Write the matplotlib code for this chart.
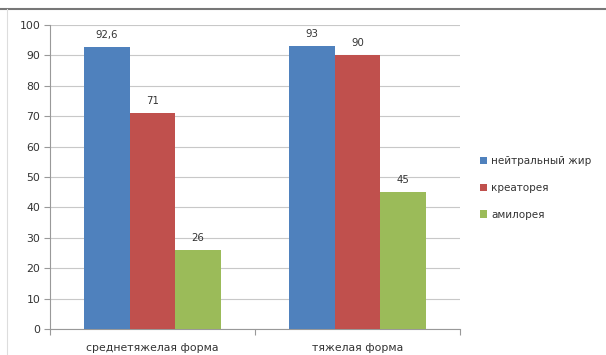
import numpy as np
import matplotlib.pyplot as plt
from matplotlib.lines import Line2D

# data
categories = ['среднетяжелая форма', 'тяжелая форма']
series_names = ['нейтральный жир', 'креаторея', 'амилорея']
neutral_fat = [92.6, 93]
creatorrhea = [71, 90]
amylorrhea = [26, 45]
value_labels = [['92,6', '93'], ['71', '90'], ['26', '45']]
colors = ['#4F81BD', '#C0504D', '#9BBB59']

plt.rcParams['font.family'] = ['DejaVu Sans']

fig = plt.figure(figsize=(6.06, 3.55), dpi=100)
ax = fig.add_axes([0.0825, 0.073, 0.6765, 0.857])

x = np.arange(len(categories))
w = 1 / 4.5
series = [neutral_fat, creatorrhea, amylorrhea]
for i, (vals, name, c) in enumerate(zip(series, series_names, colors)):
    pos = x + (i - 1) * w
    ax.bar(pos, vals, width=w, color=c, label=name, zorder=3)
    for p, v, lab in zip(pos, vals, value_labels[i]):
        ax.annotate(lab, (p, v), xytext=(0, 5), textcoords='offset points',
                    ha='center', va='bottom', fontsize=7.3, color='#333333')

ax.set_xlim(-0.5, 1.5)
ax.set_ylim(0, 100)
ax.set_yticks(range(0, 101, 10))
ax.yaxis.grid(True, color='#c8c8c8', linewidth=0.8, zorder=0)
ax.set_xticks([-0.5, 0.5, 1.5])
ax.set_xticklabels([])
ax.set_xticks(x, minor=True)
ax.set_xticklabels(categories, minor=True)
ax.tick_params(axis='x', which='minor', length=0, labelsize=7.8, colors='#333333', pad=10)
ax.tick_params(axis='x', which='major', length=4, color='#999999')
ax.tick_params(axis='y', length=4, color='#999999', labelsize=7.8, labelcolor='#333333', pad=3)

for s in ['top', 'right']:
    ax.spines[s].set_visible(False)
ax.spines['left'].set_color('#999999')
ax.spines['bottom'].set_color('#999999')

ax.legend(loc='center left', bbox_to_anchor=(1.025, 0.464), frameon=False, fontsize=7.5,
          handlelength=0.7, handleheight=0.7, labelspacing=1.6, handletextpad=0.4,
          labelcolor='#333333')

# outer frame lines
fig.add_artist(Line2D([0, 1], [0.975, 0.975], color='#777777', linewidth=1.5))
fig.add_artist(Line2D([0.012, 0.012], [0, 0.975], color='#dddddd', linewidth=0.8))

fig.savefig('out.png', dpi=100)
